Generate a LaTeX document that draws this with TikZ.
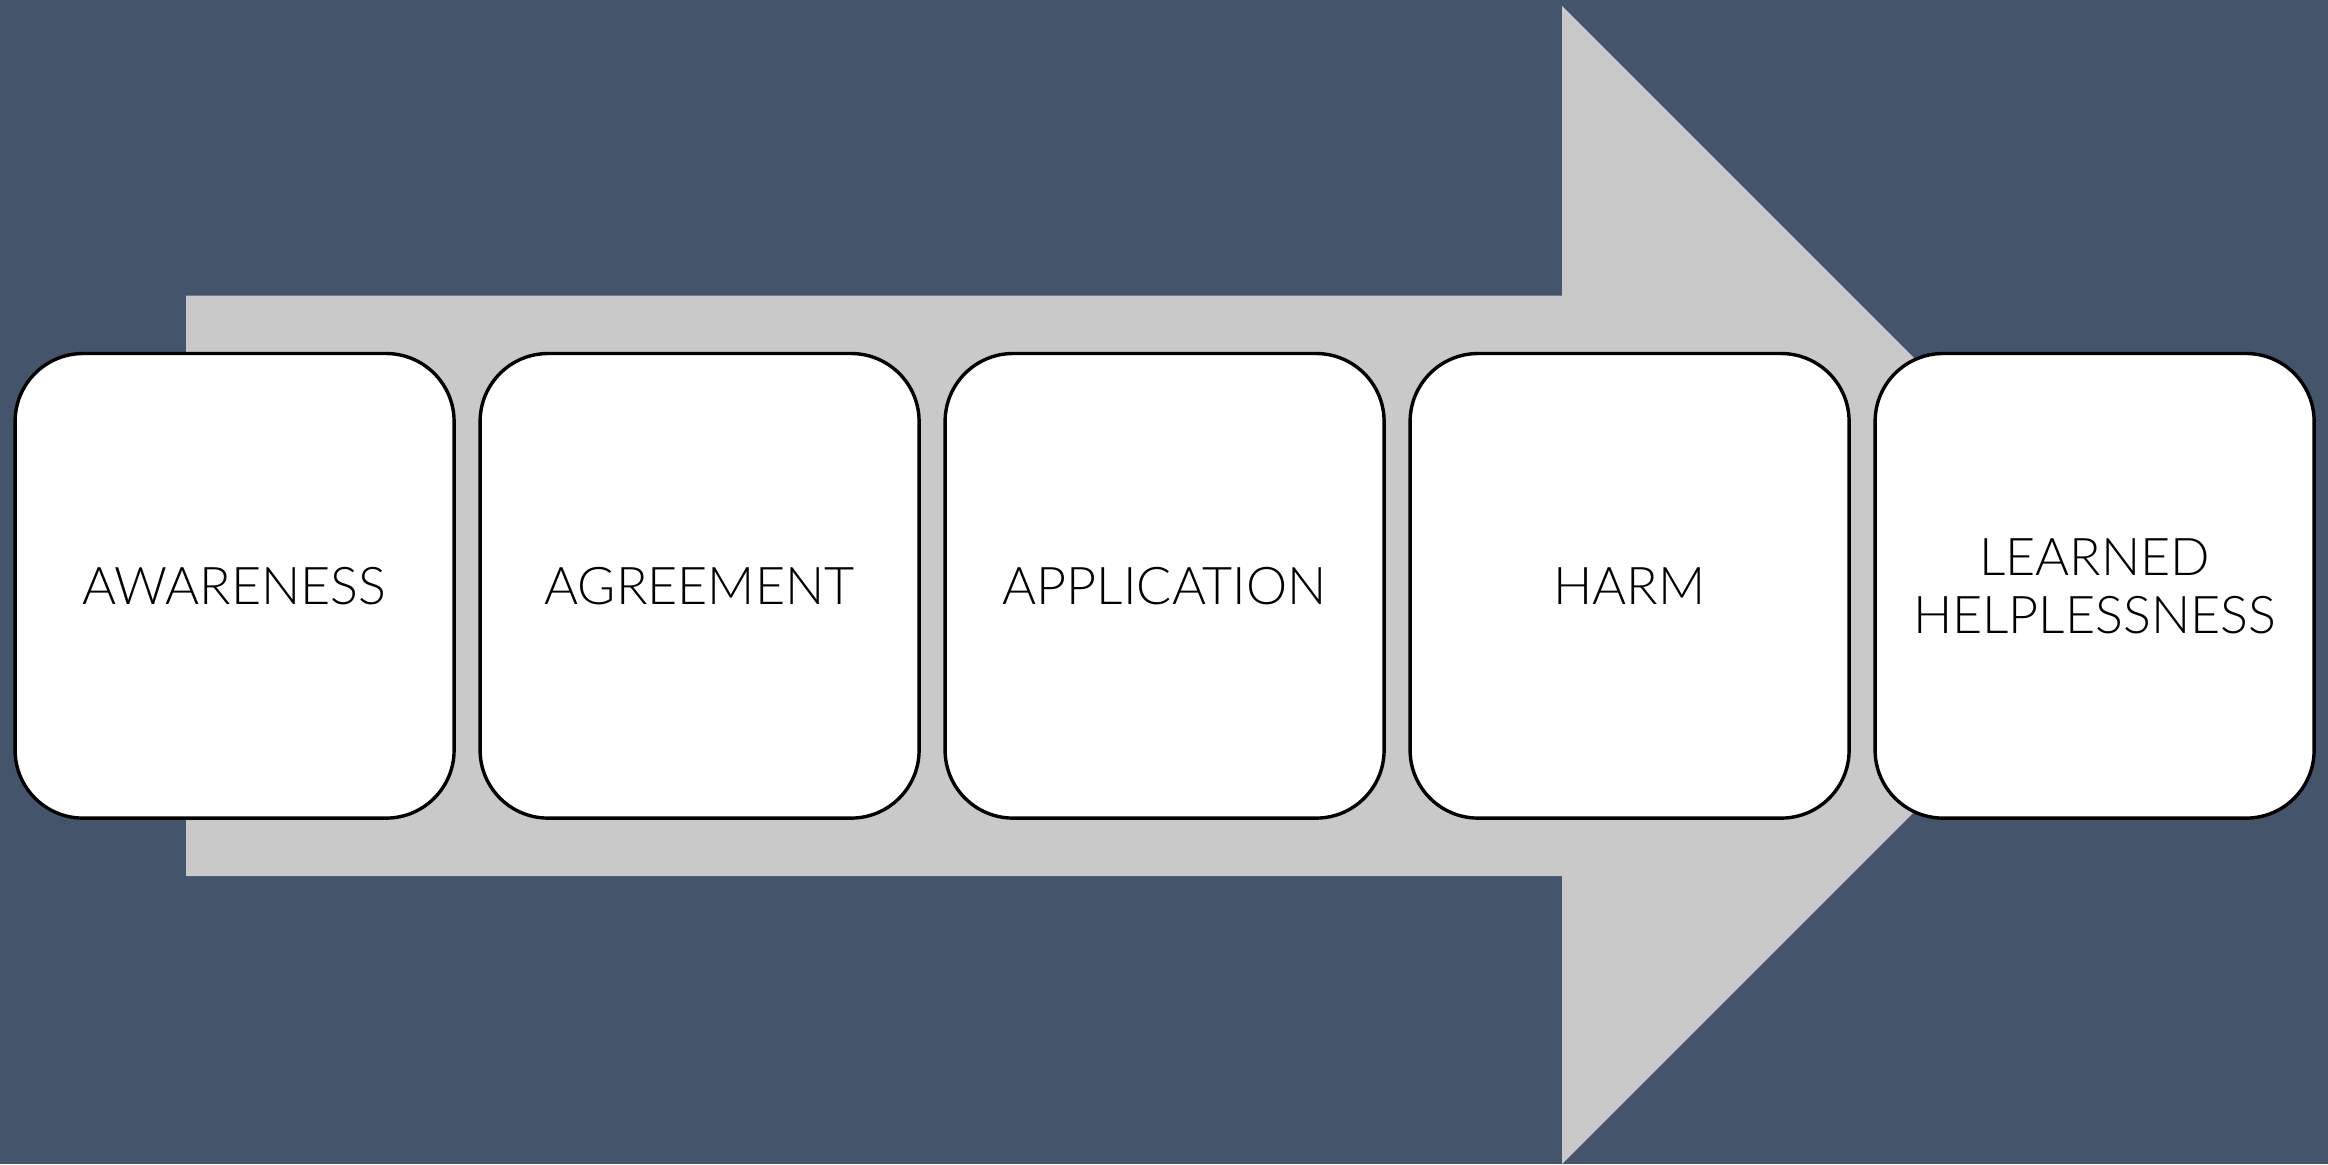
\documentclass[tikz,border=0pt]{standalone}
\usepackage{fontspec}
\newfontfamily\lblfont{Lato Light}
\definecolor{slate}{HTML}{44546A}
\definecolor{arrowgray}{HTML}{C9C9C9}
\begin{document}
\begin{tikzpicture}[x=0.5pt,y=-0.5pt,
  stage/.style={draw=black, line width=1.7pt, fill=white,
    rounded corners=34pt, minimum width=219.5pt, minimum height=232.3pt,
    align=center, inner sep=0pt,
    font=\lblfont\fontsize{26}{29}\selectfont}]
  % background
  \fill[slate] (0,0) rectangle (2328,1164);
  \useasboundingbox (0,0) rectangle (2328,1164);
  % big block arrow behind the stages
  \fill[arrowgray] (186,295.5) -- (1562,295.5) -- (1562,6) -- (2141,585)
    -- (1562,1164) -- (1562,876) -- (186,876) -- cycle;
  % stages
  \node[stage] (s1) at (234.6,585.8) {AWARENESS};
  \node[stage] (s2) at (699.6,585.8) {AGREEMENT};
  \node[stage] (s3) at (1164.6,585.8) {APPLICATION};
  \node[stage] (s4) at (1629.6,585.8) {HARM};
  \node[stage] (s5) at (2094.6,585.8) {LEARNED\\HELPLESSNESS};
\end{tikzpicture}
\end{document}
